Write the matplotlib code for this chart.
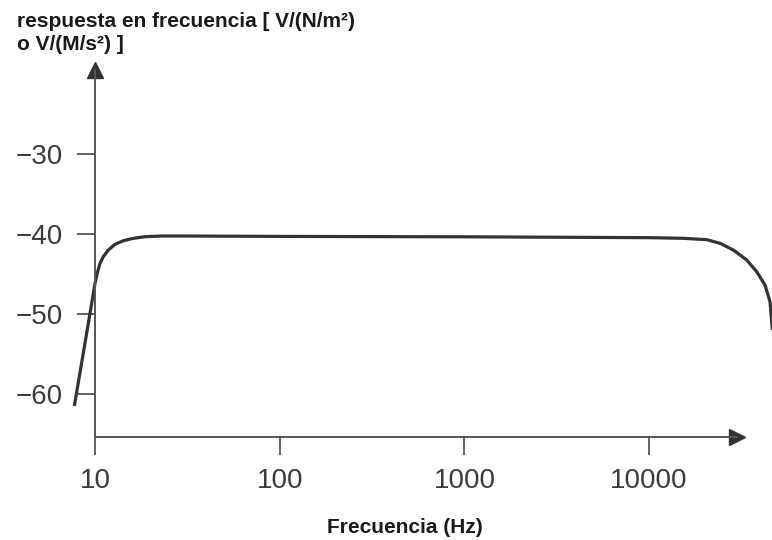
import numpy as np
import matplotlib
matplotlib.use("Agg")
import matplotlib.pyplot as plt

plt.rcParams['font.family'] = ['Liberation Sans', 'DejaVu Sans']

# respuesta
freq_hz = [7.73, 9.4, 10.0, 10.34, 10.64, 11.09, 11.81, 12.83, 14.23, 16.12, 18.65, 22.97,
           30, 100, 1000, 10110, 15320, 20510, 24210, 28570, 33770, 38240, 42420,
           45140, 46110, 46500]
resp_db = [-61.5, -49.9, -46.2, -44.7, -43.66, -42.84, -42.0, -41.29, -40.84, -40.54, -40.34, -40.25,
           -40.25, -40.3, -40.35, -40.46, -40.54, -40.71, -41.16, -42.0, -43.25, -44.71, -46.38,
           -48.46, -50.96, -52.0]

xticks = [10, 100, 1000, 10000]
xtick_labels = ["10", "100", "1000", "10000"]
yticks = [-30, -40, -50, -60]
ytick_labels = ["\u221230", "\u221240", "\u221250", "\u221260"]

W, H = 772, 540
fig = plt.figure(figsize=(W / 100, H / 100), dpi=100)

# caja de ejes en pixeles: izq 95, der 737, arriba 70, abajo 437
ax = fig.add_axes([95 / W, (H - 437) / H, (737 - 95) / W, (437 - 70) / H])
ax.set_xscale('log')
ax.set_xlim(10, 10 ** (1 + 642 / 184.7))
ax.set_ylim(-60 - 43 / 8, -30 + 84 / 8)

ax.plot(freq_hz, resp_db, color='#333333', lw=2.3, clip_on=False,
        solid_capstyle='butt', solid_joinstyle='round')

for s in ['top', 'right']:
    ax.spines[s].set_visible(False)
for s in ['left', 'bottom']:
    ax.spines[s].set_color('#555555')
    ax.spines[s].set_linewidth(1.4)

# flechas de los ejes
ax.plot(1, 0, '>', color='#333333', ms=12, transform=ax.transAxes, clip_on=False)
ax.plot(0, 1, '^', color='#333333', ms=12, transform=ax.transAxes, clip_on=False)

ax.set_xticks(xticks)
ax.set_xticklabels(xtick_labels)
ax.xaxis.set_minor_locator(matplotlib.ticker.NullLocator())
ax.set_yticks(yticks)
ax.set_yticklabels(ytick_labels)
ax.tick_params(axis='both', direction='out', length=13, width=1.3, color='#555555',
               labelsize=20, labelcolor='#3a3a3a')
ax.tick_params(axis='x', pad=9)
ax.tick_params(axis='y', pad=10)

fig.text(17 / W, 1 - 27 / H, "respuesta en frecuencia [ V/(N/m\u00b2)", fontsize=15,
         fontweight='bold', ha='left', va='baseline', color='#1a1a1a')
fig.text(17 / W, 1 - 50 / H, "o V/(M/s\u00b2) ]", fontsize=15,
         fontweight='bold', ha='left', va='baseline', color='#1a1a1a')
fig.text(405 / W, 1 - 533 / H, "Frecuencia (Hz)", fontsize=15,
         fontweight='bold', ha='center', va='baseline', color='#1a1a1a')

fig.savefig("out.png", dpi=100)
